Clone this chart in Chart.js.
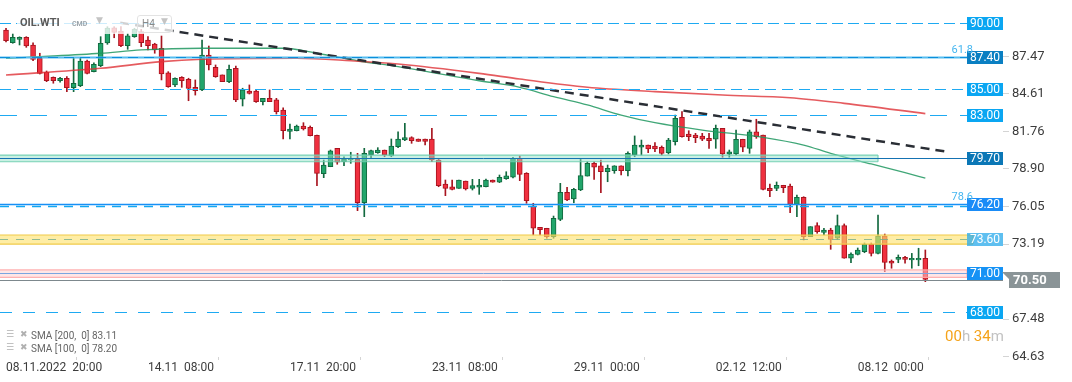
<!DOCTYPE html>
<html>
<head>
<meta charset="utf-8">
<script src="https://cdn.jsdelivr.net/npm/chart.js@4.4.0/dist/chart.umd.min.js"></script>
<style>
  html, body { margin: 0; padding: 0; background: #fff; }
  #wrap { position: relative; width: 1072px; height: 382px; font-family: Roboto, "Noto Sans", sans-serif; }
  #c { position: absolute; left: 0; top: 0; }
  .abs { position: absolute; white-space: pre; }
  #headBg { left: 17px; top: 13px; width: 156px; height: 21px; background: rgba(255,255,255,0.78); }
  #sym { left: 20px; top: 16px; font: 700 11px Roboto; color: #5a5a5a; }
  #cmd { left: 72px; top: 20px; font: 700 7px Roboto; color: #9aa4ab; }
  #dd1 { left: 96px; top: 15px; font: 9px "DejaVu Sans"; color: #c4c4c4; }
  #tf { left: 137px; top: 15px; width: 33px; height: 16px; border: 1px solid #e3e3e3; border-radius: 3px; }
  #tfTxt { left: 142px; top: 18px; font: 10px Roboto; color: #8a8a8a; }
  #dd2 { left: 161px; top: 16px; font: 9px "DejaVu Sans"; color: #c4c4c4; }
  .leg { left: 31px; font: 10px Roboto; color: #666; }
  .ico { font: 9px "DejaVu Sans"; color: #b0b0b0; }
  #cd { left: 945px; top: 327px; font: 15px Roboto; }
  #cd .o { color: #f5a31a; } #cd .g { color: #c2c2c2; }
</style>
</head>
<body>
<div id="wrap">
  <canvas id="c" width="1072" height="382"></canvas>
  <div class="abs" id="headBg"></div>
  <div class="abs" id="sym">OIL.WTI</div>
  <div class="abs" id="cmd">CMD</div>
  <div class="abs" id="dd1">▼</div>
  <div class="abs" id="tf"></div>
  <div class="abs" id="tfTxt">H4</div>
  <div class="abs" id="dd2">▼</div>
  <div class="abs ico" style="left:6px;top:329px">☰</div>
  <div class="abs ico" style="left:20px;top:329px">✖</div>
  <div class="abs leg" style="top:330px">SMA [200,  0] 83.11</div>
  <div class="abs ico" style="left:6px;top:342px">☰</div>
  <div class="abs ico" style="left:20px;top:342px">✖</div>
  <div class="abs leg" style="top:343px">SMA [100,  0] 78.20</div>
  <div class="abs" id="cd"><span class="o">00</span><span class="g">h </span><span class="o">34</span><span class="g">m</span></div>
</div>
<script>
// H4 candles
const open = [89.47,88.50,88.76,88.91,88.33,87.32,86.25,85.87,85.61,85.80,85.08,85.23,87.11,86.30,86.75,88.48,89.64,89.39,88.27,88.96,
  89.34,88.71,88.40,88.08,86.22,85.29,85.87,85.72,85.11,84.91,87.57,86.63,86.05,85.54,86.56,84.20,84.83,84.83,84.02,84.27,
  84.15,83.38,81.76,81.81,82.17,82.07,81.46,78.54,79.07,80.47,79.45,79.58,79.63,76.33,79.96,80.14,80.34,79.89,80.59,81.10,
  81.28,81.18,81.18,81.18,79.58,77.76,77.55,77.43,77.98,77.43,77.51,77.55,78.06,77.89,78.16,78.27,79.71,78.57,76.08,74.46,
  74.39,73.75,75.07,77.13,76.62,77.30,78.36,79.33,79.13,78.69,78.77,79.13,78.77,79.96,80.55,80.72,80.65,80.55,80.14,80.97,
  82.83,81.56,81.48,81.41,81.23,81.16,81.99,80.02,80.04,81.16,80.47,81.73,81.48,77.43,77.43,77.66,77.60,76.21,76.75,73.75,
  74.59,74.08,74.26,73.63,74.59,72.11,72.41,72.61,73.17,72.48,73.80,71.90,72.03,72.18,71.98,71.98,72.11];
const high = [89.60,89.16,88.95,88.96,88.50,87.70,86.35,85.90,85.87,85.92,87.32,87.32,87.19,86.98,88.96,89.72,89.72,89.72,89.22,89.60,
  89.52,88.96,88.46,89.01,86.30,85.84,85.92,85.80,85.67,88.71,88.25,86.81,86.05,86.81,86.73,85.04,85.29,84.91,84.27,84.91,
  84.27,83.54,82.32,82.24,82.42,82.17,81.48,79.58,80.34,80.47,79.83,80.17,80.09,80.47,80.34,80.52,80.34,81.18,81.73,82.37,
  81.35,81.18,81.18,81.99,79.63,78.06,78.06,78.06,77.98,78.11,78.11,78.14,78.06,78.44,78.69,79.79,79.89,78.62,76.29,74.46,
  74.39,75.32,77.81,77.51,77.43,79.63,79.45,79.45,79.58,79.20,79.15,79.13,80.21,81.41,81.10,80.72,80.90,80.65,81.23,83.00,
  83.26,81.81,81.61,81.61,81.61,82.24,81.99,80.34,81.86,81.16,81.86,82.68,81.48,77.76,77.91,77.66,77.76,76.92,76.79,74.51,
  74.81,74.39,74.39,75.40,74.72,72.53,72.89,73.27,73.27,75.40,73.95,71.98,72.36,72.25,72.48,72.87,72.74];
const low = [88.56,88.46,88.33,88.15,87.13,86.12,85.54,85.42,85.51,84.78,84.78,85.16,86.12,86.28,86.68,88.38,88.88,88.20,88.00,88.91,
  88.20,87.95,87.70,85.67,85.11,85.16,85.11,84.09,84.52,84.85,86.43,85.87,85.54,85.46,84.02,83.69,84.60,83.97,83.77,84.02,
  83.08,81.18,81.18,81.79,81.86,81.41,77.63,78.24,79.07,79.26,79.15,79.33,75.73,75.27,79.71,80.09,79.83,79.83,80.52,81.05,
  80.85,81.00,80.72,79.45,77.55,76.87,77.30,77.43,77.30,77.30,76.97,77.53,77.89,77.86,78.11,78.21,78.01,76.29,73.88,73.88,
  73.63,73.63,74.97,76.49,76.33,77.25,78.36,78.11,77.09,77.93,78.57,78.44,78.37,79.83,79.96,80.14,80.21,79.96,80.04,80.72,
  81.31,81.05,80.90,81.05,80.47,80.47,79.79,79.79,79.96,80.21,80.09,81.23,77.30,76.79,77.25,77.10,75.57,75.27,73.50,73.75,
  74.01,73.88,72.79,73.55,72.11,71.77,72.36,72.53,72.28,72.43,71.09,71.35,71.77,71.73,71.35,71.54,70.33];
const close = [88.65,88.91,88.91,88.25,87.24,86.17,85.61,85.61,85.80,85.08,85.42,87.11,86.17,86.86,88.46,89.62,89.29,88.27,89.03,89.52,
  88.50,88.27,87.95,86.12,85.16,85.80,85.61,85.03,84.85,87.57,86.81,85.92,85.54,86.48,84.15,84.91,84.65,84.02,84.27,84.02,
  83.26,81.81,81.94,82.17,81.94,81.43,78.57,79.20,80.27,79.41,79.63,79.71,76.33,80.09,80.29,80.34,79.96,80.65,81.18,81.28,
  81.05,81.00,81.00,79.58,77.63,77.43,77.35,78.06,77.38,77.63,77.68,78.06,77.89,78.27,78.37,79.71,78.49,76.49,74.39,74.28,
  73.75,75.15,77.13,76.54,77.35,78.39,79.33,79.03,78.69,78.95,79.13,78.77,80.09,80.72,80.72,80.42,80.42,80.09,81.10,82.75,
  81.35,81.35,81.28,81.16,81.05,81.99,80.04,80.21,81.16,80.55,81.73,81.35,77.35,77.25,77.66,77.48,76.21,76.75,73.75,74.51,
  74.13,74.26,73.55,74.59,72.11,72.43,72.74,73.17,72.48,73.80,71.80,71.73,72.18,72.03,72.11,72.11,70.50];

// moving averages, read at a few candles
const sma200Idx = [0, 14, 23, 29, 43, 51, 58, 70, 76, 86, 96, 106, 116, 124, 136];
const sma200 = [86.05, 86.56, 87.06, 87.24, 87.32, 87.13, 86.88, 86.17, 85.74, 85.11, 84.78, 84.52, 84.32, 83.89, 83.11];
const sma100Idx = [0, 7, 14, 20, 29, 41, 46, 52, 58, 70, 76, 81, 86, 91, 96, 103, 112, 118, 122, 128, 133, 136];
const sma100 = [87.32, 87.49, 87.70, 87.95, 88.08, 88.08, 87.70, 87.13, 86.68, 85.61, 85.11, 84.40, 83.77, 83.00, 82.42, 81.86, 81.31, 80.72, 80.09, 79.28, 78.62, 78.20];
const trendIdx = [16.9, 139.2];
const trendVal = [90.02, 80.21];

// horizontal levels and zones
const levels = [90.00, 87.40, 85.00, 83.00, 79.70, 76.20, 73.60, 71.00, 68.00];
const levelLabels = ['90.00', '87.40', '85.00', '83.00', '79.70', '76.20', '73.60', '71.00', '68.00'];
const fibLevels = [87.40, 76.20];
const fibLabels = ['61.8', '78.6'];
const zoneTeal = [79.45, 79.96];
const zoneYellow = [73.19, 73.88];
const zonePink = [70.66, 71.22];
const tealZoneEnd = 129;
const lastPrice = 70.47;
const lastPriceLabel = '70.50';

// axes
const xTickIdx = [0, 21, 42, 63, 84, 105, 126];
const xTickLabels = ['08.11.2022  20:00', '14.11  08:00', '17.11  20:00', '23.11  08:00', '29.11  00:00', '02.12  12:00', '08.12  00:00'];
const yTicks = [64.63, 67.48, 73.19, 76.05, 78.90, 81.76, 84.61, 87.47];
const yTickLabels = ['64.63', '67.48', '73.19', '76.05', '78.90', '81.76', '84.61', '87.47'];

const UP = '#22a56b', UP_EDGE = '#12693f', DN = '#f0303f', DN_EDGE = '#a8141f';

const levelStyles = [
  { color: '#1eaaf2', dash: [11, 5], width: 1, box: '#0aa6f2' },
  { color: '#56bdf0', dash: [], width: 2, over: '#0b8fdc', overDash: [10, 6], box: '#0a7fc2' },
  { color: '#1eaaf2', dash: [11, 6], width: 1, box: '#0aa6f2' },
  { color: '#1eaaf2', dash: [17, 13], width: 1, box: '#0aa6f2' },
  { color: '#1572b2', dash: [], width: 1, box: '#0b77b6' },
  { color: '#1890f5', dash: [], width: 1.5, under: '#12a8f2', underDash: [9, 7], box: '#1a8cf7' },
  { color: 'rgba(110,170,140,0.75)', dash: [8, 8], width: 1, box: 'rgba(40,170,235,0.75)' },
  { color: '#7aa5e0', dash: [], width: 1, box: '#1592f5' },
  { color: '#1eaaf2', dash: [12, 11], width: 1, box: '#0aa6f2' }
];

const idx = open.map((_, i) => i);
const isUp = open.map((o, i) => close[i] >= o);

const levelsPlugin = {
  id: 'levels',
  afterDatasetsDraw(chart) {
    const { ctx, chartArea: a, scales: { x, y } } = chart;
    const boxL = a.right - 36;
    ctx.save();
    const zone = (r, x1, fill, stroke) => {
      const yt = y.getPixelForValue(r[1]), yb = y.getPixelForValue(r[0]);
      ctx.fillStyle = fill;
      ctx.fillRect(a.left, yt, x1 - a.left, yb - yt);
      ctx.strokeStyle = stroke; ctx.lineWidth = 1.2; ctx.setLineDash([]);
      ctx.beginPath();
      ctx.moveTo(a.left, yt); ctx.lineTo(x1, yt);
      ctx.moveTo(a.left, yb); ctx.lineTo(x1, yb);
      ctx.moveTo(x1, yt); ctx.lineTo(x1, yb);
      ctx.stroke();
    };
    zone(zoneTeal, x.getPixelForValue(tealZoneEnd), 'rgba(150,226,200,0.5)', 'rgba(110,206,176,0.9)');
    zone(zoneYellow, boxL + 6, 'rgba(254,226,110,0.62)', '#f2cc4a');
    zone(zonePink, boxL, 'rgba(255,205,205,0.5)', 'rgba(255,170,170,0.9)');

    const hline = (v, color, dash, width, x1) => {
      const py = Math.round(y.getPixelForValue(v)) + 0.5;
      ctx.strokeStyle = color; ctx.lineWidth = width; ctx.setLineDash(dash);
      ctx.beginPath(); ctx.moveTo(a.left, py); ctx.lineTo(x1, py); ctx.stroke();
    };
    levels.forEach((v, i) => {
      const s = levelStyles[i];
      hline(v, s.color, s.dash, s.width, boxL);
      if (s.over) hline(v, s.over, s.overDash, 1, boxL);
      if (s.under) hline(v - 0.14, s.under, s.underDash, 1.5, boxL);
    });
    hline(lastPrice, '#7d888d', [], 1, a.right);
    ctx.restore();
  },
  afterDraw(chart) {
    const { ctx, chartArea: a, scales: { y } } = chart;
    const boxL = a.right - 36;
    ctx.save();
    ctx.font = '12px Roboto';
    ctx.textAlign = 'center'; ctx.textBaseline = 'middle';
    levels.forEach((v, i) => {
      const py = y.getPixelForValue(v);
      ctx.fillStyle = levelStyles[i].box;
      ctx.fillRect(boxL, Math.round(py) - 6, 36, 13);
      ctx.fillStyle = '#fff';
      ctx.fillText(levelLabels[i], boxL + 18, Math.round(py) + 1);
    });
    ctx.font = '11px Roboto'; ctx.textAlign = 'right'; ctx.textBaseline = 'alphabetic';
    ctx.fillStyle = '#45b6f0';
    fibLevels.forEach((v, i) => ctx.fillText(fibLabels[i], boxL + 6, y.getPixelForValue(v) - 4));

    // last price tag
    const py = Math.round(y.getPixelForValue(lastPrice));
    const x0 = a.right - 1;
    ctx.fillStyle = '#8a9497';
    ctx.beginPath();
    ctx.moveTo(x0, py - 8); ctx.lineTo(x0 + 58, py - 8); ctx.lineTo(x0 + 58, py + 8);
    ctx.lineTo(x0 + 7, py + 8); ctx.lineTo(x0 + 7, py - 1); ctx.closePath(); ctx.fill();
    ctx.fillStyle = '#fff'; ctx.font = 'bold 13px Roboto';
    ctx.textAlign = 'left'; ctx.textBaseline = 'middle';
    ctx.fillText(lastPriceLabel, x0 + 11, py + 1);
    ctx.restore();
  }
};

new Chart(document.getElementById('c'), {
  type: 'bar',
  data: {
    datasets: [
      {
        type: 'line', label: 'trend', order: 0,
        data: trendIdx.map((v, i) => ({ x: v, y: trendVal[i] })),
        borderColor: '#2a2e35', borderWidth: 2.5, borderDash: [9, 6], pointRadius: 0
      },
      {
        type: 'line', label: 'SMA 200', order: 0,
        data: sma200Idx.map((v, i) => ({ x: v, y: sma200[i] })),
        borderColor: 'rgba(222,50,55,0.8)', borderWidth: 1.6, pointRadius: 0, cubicInterpolationMode: 'monotone'
      },
      {
        type: 'line', label: 'SMA 100', order: 0,
        data: sma100Idx.map((v, i) => ({ x: v, y: sma100[i] })),
        borderColor: 'rgba(30,150,95,0.85)', borderWidth: 1.3, pointRadius: 0, cubicInterpolationMode: 'monotone'
      },
      {
        label: 'body', order: 1,
        data: idx.map(i => ({ x: i, y: [open[i], close[i]] })),
        backgroundColor: isUp.map(u => u ? UP : DN),
        borderColor: isUp.map(u => u ? UP_EDGE : DN_EDGE),
        borderWidth: 1, borderSkipped: false, barThickness: 5, minBarLength: 1, grouped: false
      },
      {
        label: 'wick', order: 2,
        data: idx.map(i => ({ x: i, y: [low[i], high[i]] })),
        backgroundColor: isUp.map(u => u ? UP_EDGE : DN_EDGE),
        borderWidth: 0, barThickness: 1, grouped: false
      }
    ]
  },
  options: {
    responsive: false,
    animation: false,
    events: [],
    layout: { padding: 0, autoPadding: false },
    plugins: { legend: { display: false }, tooltip: { enabled: false } },
    scales: {
      x: {
        type: 'linear', min: -0.89, max: 147.49, offset: false, bounds: 'data',
        afterBuildTicks: s => { s.ticks = xTickIdx.map(v => ({ value: v })); },
        afterFit: s => { s.height = 25; s.paddingLeft = 0; s.paddingRight = 0; },
        grid: { drawOnChartArea: false, tickLength: 3, color: '#d4d4d4' },
        border: { display: false },
        ticks: {
          autoSkip: false, maxRotation: 0, align: 'start', padding: 1,
          font: { family: 'Roboto', size: 12 }, color: '#3c3c3c',
          callback: (v, i) => xTickLabels[i]
        }
      },
      y: {
        type: 'linear', position: 'right', min: 64.60, max: 91.75, bounds: 'data',
        afterBuildTicks: s => { s.ticks = yTicks.map(v => ({ value: v })); },
        afterFit: s => { s.width = 69; s.paddingTop = 0; s.paddingBottom = 0; },
        grid: { drawOnChartArea: false, tickLength: 6, color: '#d4d4d4' },
        border: { display: false },
        ticks: {
          padding: 3, font: { family: 'Roboto', size: 13 }, color: '#3c3c3c',
          callback: (v, i) => yTickLabels[i]
        }
      }
    }
  },
  plugins: [levelsPlugin]
});
</script>
</body>
</html>
